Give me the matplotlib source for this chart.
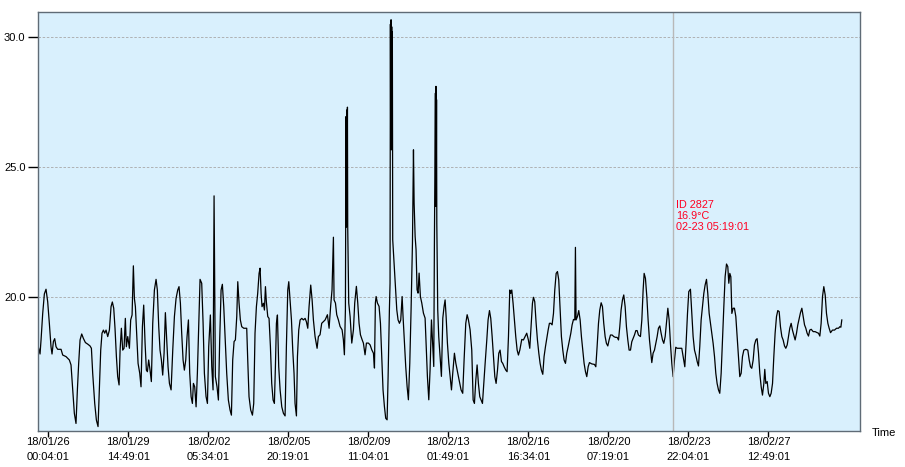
import matplotlib
matplotlib.use("Agg")
import matplotlib.pyplot as plt
from matplotlib.ticker import FormatStrFormatter

# hours elapsed since 18/01/26 00:04:01
hours = [
    -10.45, -9.0, -7.9, -6.1, -4.3, -2.5, -0.7, 1.1, 2.9, 4.0, 5.5, 6.9, 8.35, 10.15, 13.8, 15.6, 19.2, 22.8,
    24.6, 26.4, 28.2, 30.0, 31.5, 32.9, 34.4, 36.2, 38.0, 40.2, 42.7, 45.2, 46.7, 48.1, 50.3, 52.1, 53.9, 55.3,
    56.8, 58.2, 59.7, 61.1, 62.6, 64.4, 66.2, 68.0, 69.4, 70.9, 72.3, 73.8, 75.2, 76.7, 77.8, 79.2, 80.65, 82.1,
    83.5, 84.6, 86.1, 87.9, 89.3, 90.8, 92.2, 93.3, 94.4, 95.8, 97.3, 99.1, 100.5, 102.0, 103.4, 104.9, 106.3,
    107.4, 108.8, 110.3, 111.7, 113.2, 115.0, 116.8, 118.2, 119.7, 121.1, 122.6, 124.0, 125.5, 126.9, 128.4,
    129.8, 131.3, 133.1, 134.9, 136.7, 138.5, 140.3, 141.7, 143.2, 144.6, 146.1, 147.5, 149.0, 150.4, 151.9,
    153.3, 154.8, 156.2, 157.3, 158.7, 160.2, 161.6, 163.1, 164.5,
    166.3, 167.8, 169.2, 171.0, 172.5, 173.9, 175.7, 177.2, 178.6, 179.7, 181.1, 182.9, 184.4, 185.8, 187.3,
    188.7, 190.2, 191.6, 193.4, 195.2, 197.0, 198.5, 199.9, 201.4, 202.8, 204.3, 205.4, 206.8, 208.2, 209.7,
    211.9, 215.1, 216.2, 217.6, 219.4, 221.3, 222.7, 224.1, 225.6, 227.0, 228.5, 229.6, 230.7, 231.7, 233.2,
    234.3, 235.4, 236.4, 237.9, 239.3, 240.8, 242.2, 243.7, 245.1, 246.2, 247.3, 248.4, 249.8, 251.3, 253.1,
    254.9, 256.7, 258.1, 259.6, 260.7, 262.1, 263.6, 265.0, 266.4, 267.5, 269.0, 270.1, 271.5, 273.0, 274.8,
    276.6, 278.4, 279.8, 281.3, 282.7, 284.5, 286.0, 287.4, 289.2, 291.4, 292.8,
    294.6, 296.4, 300.1, 302.6, 304.4, 306.2, 307.6, 309.1, 309.8, 311.3, 312.7, 314.5, 316.3, 318.5, 319.9,
    321.0, 322.1, 322.8, 323.2, 323.5, 323.9, 324.3, 324.6, 325.7, 327.2, 329.0, 330.8, 332.2, 334.0, 335.5,
    336.9, 338.4, 340.2, 341.6, 343.4, 344.9, 347.0, 348.9, 350.7, 352.5, 353.6, 354.6, 355.4, 356.8, 358.6,
    360.1, 361.5, 362.9, 364.4, 365.8, 367.3, 368.4, 369.8, 370.5, 370.9, 371.2, 371.6, 371.9, 372.3, 372.6,
    373.0, 373.4, 374.9, 376.3, 377.8, 379.2, 380.7, 382.1, 383.6, 384.6, 386.1, 387.5, 389.0, 390.4, 391.9,
    393.3, 394.8, 395.9, 396.6, 397.7, 398.7, 399.8, 400.9, 402.0, 403.4, 404.9, 406.7, 408.5, 409.6, 411.0,
    412.5, 413.9, 415.4, 416.8, 417.9, 418.6, 419.7, 420.0, 420.3, 420.6, 420.9, 421.2, 422.2, 423.3, 424.8,
    426.2, 427.7, 429.1, 430.2, 431.3, 432.7, 434.2, 435.6, 437.1, 438.5, 440.3, 441.8, 443.2, 444.6, 446.1,
    447.5, 449.3, 450.8, 452.6, 454.1, 455.5, 457.3,
    459.1, 460.6, 462.0, 463.5, 464.9, 466.3, 467.8, 469.2, 470.7, 472.1, 473.6, 475.4, 476.8, 478.3, 479.7,
    481.2, 482.6, 484.1, 485.5, 487.0, 488.4, 489.8, 491.3, 492.7, 494.2, 496.0, 497.4, 498.9, 500.3, 501.4,
    502.5, 503.9, 505.4, 506.8, 508.3, 509.7, 511.2,
    513.3, 515.1, 516.9, 518.7, 520.5, 522.0, 523.4, 524.9, 526.0, 527.4, 528.9, 530.3, 531.8, 533.2, 534.6,
    536.1, 537.5, 539.0, 540.4, 541.9, 543.3, 544.8, 546.2, 547.7, 549.1, 550.6, 552.0, 553.4, 554.9, 556.3,
    557.8, 559.2, 560.7, 562.1, 563.6, 565.0, 566.5, 567.9, 569.4, 570.8, 571.5, 572.2, 573.7, 575.1, 576.6,
    578.0, 579.5, 580.9, 582.4, 583.8, 585.3, 586.7, 589.2, 592.1, 593.6, 595.0, 596.5, 597.9, 599.4, 600.8,
    602.2, 603.7, 605.1, 606.6, 608.0, 609.5, 611.3, 613.1, 614.9, 616.7, 618.2, 619.6, 621.0, 622.5, 623.9,
    625.4, 626.8, 628.3, 629.7, 631.2, 632.6, 634.1, 635.5, 637.0, 638.4, 639.8, 642.0, 643.5, 644.9, 646.0,
    647.4, 648.9, 650.3, 651.8, 653.2, 654.3, 655.7, 657.2, 658.6, 660.1, 661.5, 663.0, 664.4, 665.9, 667.3,
    668.8, 670.2, 671.7, 673.1, 674.5, 676.0, 677.4, 678.9, 680.3, 681.8, 683.9, 686.8, 688.6, 690.1, 691.5,
    693.0, 694.4,
    696.2, 697.7, 699.1, 700.6, 702.0, 703.5, 704.9, 706.3, 707.8, 709.2, 710.7, 712.1, 713.6, 715.0, 716.5,
    717.9, 719.4, 720.8, 722.3, 723.7, 725.1, 726.6, 728.0, 729.5, 730.9, 732.4, 733.8, 735.3, 736.7, 737.8,
    738.9, 740.0, 741.1, 742.5, 743.9, 745.4, 746.8, 748.3, 749.7, 751.2, 752.6, 754.1, 756.2, 758.4, 759.9,
    761.3, 762.7, 764.2, 765.6, 767.1, 768.5, 770.0, 771.4, 772.9, 774.3, 775.8, 776.8, 777.9, 779.4, 780.8,
    782.3, 783.7, 785.2, 786.6, 788.0, 789.5, 790.9, 792.4, 793.8, 795.3, 796.7, 798.2, 799.6, 801.1, 802.5,
    803.9, 805.4, 806.8, 808.3, 809.7, 811.2, 812.6, 814.1, 815.5, 817.0, 818.4, 819.9, 821.3, 822.7, 824.2,
    825.6, 827.1, 829.3, 831.4, 833.6, 835.0, 836.5, 837.9, 839.4, 840.8, 842.3, 843.7, 845.2, 846.6, 848.1,
    850.2, 852.4, 854.6, 856.7, 858.2, 859.3, 860.3,
]

temps = [
    18.04, 17.82, 18.36, 19.38, 20.13, 20.31, 19.83, 19.0, 18.1, 17.82, 18.3, 18.41, 18.1, 18.0, 18.0, 17.78, 17.72, 17.59,
    17.4, 16.44, 15.54, 15.15, 16.44, 17.46, 18.36, 18.59, 18.42, 18.26, 18.2, 18.13, 18.04, 17.08, 15.92, 15.28, 15.03, 16.44,
    17.97, 18.62, 18.74, 18.62, 18.74, 18.49, 18.74, 19.64, 19.82, 19.58, 18.81, 17.72, 16.95, 16.63, 17.97, 18.81, 17.97, 18.04,
    19.19, 18.1, 18.49, 18.04, 19.13, 19.32, 21.21, 19.96, 19.64, 18.62, 17.46, 17.08, 16.56, 18.87, 19.7, 18.23, 17.2,
    17.14, 17.59, 17.2, 16.76, 19.0, 20.28, 20.69, 20.28, 18.87, 17.97, 17.59, 17.01, 17.85, 19.41, 18.36,
    17.33, 16.69, 16.44, 17.97, 19.26, 19.96, 20.28, 20.41, 19.77, 18.62, 17.59, 17.2, 17.59, 18.49, 19.13,
    17.08, 16.18, 15.92, 16.69, 16.56, 15.79, 17.08, 19.0, 20.69,
    20.54, 19.0, 17.08, 16.18, 15.92, 18.1, 19.32, 17.33, 16.44, 23.9, 16.95, 16.56, 16.05, 18.36, 20.28,
    20.5, 19.64, 18.49, 17.08, 16.05, 15.67, 15.47, 17.59, 18.3, 18.36, 19.26, 20.6, 19.77, 19.13, 18.87,
    18.81, 18.81, 17.59, 16.18, 15.67, 15.47, 15.92, 18.62, 19.64, 20.15, 20.92, 21.12, 20.15, 19.64, 19.77,
    19.51, 20.41, 19.83, 19.26, 19.19, 18.1, 16.69, 16.05, 15.92, 17.33, 19.0, 19.32, 17.33, 16.44, 15.79,
    15.54, 15.44, 18.1, 20.28, 20.6, 19.9, 19.13, 17.97, 17.08, 15.92, 15.44, 17.72, 18.74, 19.13, 19.19,
    19.13, 19.19, 19.06, 18.81, 19.64, 20.47, 19.9, 19.13, 18.49, 18.04, 18.49,
    18.56, 19.0, 19.13, 19.33, 18.81, 19.71, 20.29, 22.31, 19.9, 19.78, 19.33, 19.13, 18.88, 18.75, 18.37,
    17.79, 19.52, 26.95, 22.7, 27.2, 23.0, 27.31, 22.72, 19.78, 19.26, 18.24, 18.75, 19.78, 20.42, 19.78,
    19.0, 18.56, 18.37, 18.24, 17.79, 18.24, 18.24, 18.17, 17.98, 17.85, 17.28, 19.78, 20.03, 19.78, 19.65,
    19.0, 17.72, 16.44, 15.8, 15.35, 15.29, 16.96, 19.52, 20.54, 30.5, 25.8, 30.67, 25.67, 30.4, 26.0,
    30.2, 22.21, 21.31, 20.42, 19.52, 19.13, 19.0, 19.13, 20.03, 19.26, 18.24, 17.34, 16.57, 16.06, 17.47,
    19.52, 22.08, 25.67, 23.62, 22.34, 21.83, 20.29, 20.16, 20.93, 20.03, 19.78, 19.39, 19.2, 18.24, 16.96,
    16.06, 17.21, 19.13, 18.1, 17.34, 22.08, 27.85, 23.5, 28.11, 24.0, 27.6, 22.85, 19.52, 18.49, 17.72,
    16.96, 19.2, 19.65, 19.9, 19.26, 18.24, 17.47, 16.96, 16.44, 17.09, 17.85, 17.47, 17.21, 16.96, 16.7,
    16.44, 16.31, 17.6, 19.0, 19.33, 19.13, 18.75,
    17.97, 16.05, 15.92, 16.82, 17.4, 16.69, 16.18, 16.05, 15.92, 16.69, 17.46, 18.36, 19.13, 19.49, 19.19,
    18.49, 17.72, 16.95, 16.69, 17.2, 17.85, 17.97, 17.53, 17.46, 17.33, 17.2, 17.14, 18.49, 20.28, 20.15,
    20.28, 19.77, 19.13, 18.49, 17.97, 17.78, 17.97,
    18.38, 18.36, 18.49, 18.62, 18.36, 18.04, 18.87, 19.77, 20.0, 19.83, 19.0, 18.36, 17.85, 17.46, 17.2,
    17.04, 17.72, 18.1, 18.42, 18.74, 19.0, 19.0, 18.94, 19.38, 20.28, 20.92, 20.99, 20.67, 19.51, 18.49,
    17.97, 17.59, 17.46, 17.85, 18.1, 18.36, 18.62, 18.94, 19.15, 19.13, 21.92, 19.13, 19.26, 19.49, 19.13,
    18.49, 17.97, 17.46, 17.14, 16.95, 17.33, 17.49, 17.44, 17.42, 17.33, 18.1, 19.0, 19.51, 19.79, 19.64,
    19.0, 18.49, 18.23, 18.13, 18.36, 18.55, 18.55, 18.49, 18.46, 18.46, 18.36, 18.87, 19.51, 19.9, 20.09,
    19.64, 18.87, 18.36, 17.97, 17.97, 18.29, 18.42, 18.55, 18.72, 18.72, 18.55, 18.49, 19.13, 20.28, 20.92,
    20.73, 20.03, 19.13, 18.36, 17.85, 17.49, 17.85, 17.97, 18.23, 18.49, 18.81, 18.9, 18.62, 18.36, 18.23,
    18.49, 19.0, 19.58, 19.13, 18.23, 17.46, 16.95, 17.59, 18.08, 18.04, 18.04, 18.04, 17.65, 17.33, 18.23,
    19.38, 20.22,
    20.31, 19.38, 18.49, 17.97, 17.78, 17.53, 17.36, 18.1, 19.13, 19.64, 20.15, 20.47, 20.69, 20.15, 19.38,
    19.0, 18.62, 18.23, 17.72, 17.08, 16.69, 16.44, 16.31, 17.08, 18.36, 19.64, 20.79, 21.28, 21.18, 20.54,
    20.92, 20.79, 19.38, 19.58, 19.58, 19.26, 18.49, 17.72, 16.95, 17.08, 17.72, 17.97, 18.0, 17.97, 17.59,
    17.33, 17.27, 17.59, 18.17, 18.36, 18.41, 17.85, 17.08, 16.56, 16.24, 16.69, 17.23, 16.69, 16.76, 16.31,
    16.18, 16.31, 16.69, 17.72, 18.62, 19.26, 19.49, 19.45, 18.87, 18.49, 18.36, 18.13, 18.04, 18.17, 18.49,
    18.81, 19.0, 18.74, 18.55, 18.36, 18.62, 18.94, 19.19, 19.41, 19.58, 19.26, 18.94, 18.81, 18.62, 18.51,
    18.74, 18.77, 18.68, 18.68, 18.64, 18.62, 18.51, 19.0, 20.03, 20.41, 20.09, 19.38, 19.0, 18.81, 18.64,
    18.74, 18.74, 18.81, 18.81, 18.87, 18.85, 19.13,
]

tick_hours = [0, 86.75, 173.5, 260.25, 347.0, 433.75, 520.5, 607.25, 694.0, 780.75]
tick_labels = [
    "18/01/26\n00:04:01", "18/01/29\n14:49:01", "18/02/02\n05:34:01", "18/02/05\n20:19:01",
    "18/02/09\n11:04:01", "18/02/13\n01:49:01", "18/02/16\n16:34:01", "18/02/20\n07:19:01",
    "18/02/23\n22:04:01", "18/02/27\n12:49:01",
]
y_ticks = [20.0, 25.0, 30.0]

cursor_hour = 677.25
cursor_text = "ID 2827\n16.9°C\n02-23 05:19:01"

plt.rcParams['font.family'] = ['Liberation Sans', 'DejaVu Sans']

fig = plt.figure(figsize=(9.05, 4.67), dpi=100)
ax = fig.add_axes([38 / 905, 36 / 467, (859.5 - 38) / 905, (431 - 11.7) / 467])
ax.set_facecolor('#d9f0fd')

ax.plot(hours, temps, color='black', lw=0.9)

ax.set_xlim(-11.2, 879.5)
ax.set_ylim(14.86, 30.98)

ax.set_yticks(y_ticks)
ax.yaxis.set_major_formatter(FormatStrFormatter('%.1f'))
ax.set_xticks(tick_hours)
ax.set_xticklabels(tick_labels, linespacing=1.6)

ax.grid(axis='y', color='#a8a8a8', linestyle=(0, (3, 2)), linewidth=0.6)
ax.tick_params(axis='y', length=7, width=1, labelsize=8, pad=2, colors='black')
ax.tick_params(axis='x', length=4, width=1, labelsize=8, pad=0.5, colors='black')
for s in ax.spines.values():
    s.set_color('#5f6b76')
    s.set_linewidth(1)

ax.axvline(cursor_hour, color='#b8b8b8', lw=1)
ax.annotate(cursor_text, xy=(cursor_hour, 23.13), xytext=(2, 0), textcoords='offset points',
            color='#ff0022', fontsize=7.8, va='center', ha='left', linespacing=1.15)

fig.text(872 / 905, 1 - 433 / 467, "Time", fontsize=8, ha='left', va='center')

fig.savefig("out.png", dpi=100)
